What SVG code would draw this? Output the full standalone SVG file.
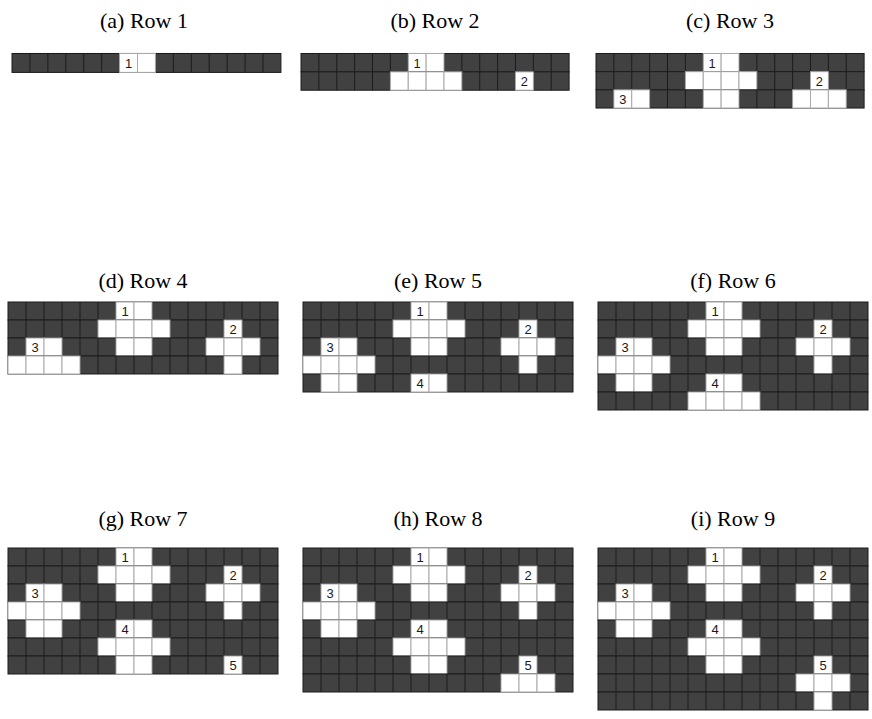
<svg xmlns="http://www.w3.org/2000/svg" xmlns:xlink="http://www.w3.org/1999/xlink" width="872" height="719" viewBox="0 0 872 719">
<style>
.bg{fill:#fff}
.d{fill:#414141;stroke:#1c1c1c;stroke-width:1}
.gl{stroke:#1c1c1c;stroke-width:1;fill:none}
.w{fill:#fff;stroke:#a9a9a9;stroke-width:1}
.lb{font-family:"Liberation Sans",Arial,sans-serif;font-size:13px;fill:#1a1a1a;text-anchor:middle}
.tt{font-family:"Liberation Serif","Times New Roman",serif;font-size:22px;fill:#000;text-anchor:middle}
</style>
<defs>
<path id="vl" class="gl" d="M18 0v18M36 0v18M54 0v18M72 0v18M90 0v18M108 0v18M126 0v18M144 0v18M162 0v18M180 0v18M198 0v18M216 0v18M234 0v18M252 0v18"/>
<g id="r0"><rect class="d" width="270" height="18"/><use xlink:href="#vl"/>
<rect class="w" x="108" width="18" height="18"/><rect class="w" x="126" width="18" height="18"/>
<text class="lb" x="117" y="14">1</text></g>
<g id="r1"><rect class="d" width="270" height="18"/><use xlink:href="#vl"/>
<rect class="w" x="90" width="18" height="18"/><rect class="w" x="108" width="18" height="18"/><rect class="w" x="126" width="18" height="18"/><rect class="w" x="144" width="18" height="18"/><rect class="w" x="216" width="18" height="18"/>
<text class="lb" x="225" y="14">2</text></g>
<g id="r2"><rect class="d" width="270" height="18"/><use xlink:href="#vl"/>
<rect class="w" x="18" width="18" height="18"/><rect class="w" x="36" width="18" height="18"/><rect class="w" x="108" width="18" height="18"/><rect class="w" x="126" width="18" height="18"/><rect class="w" x="198" width="18" height="18"/><rect class="w" x="216" width="18" height="18"/><rect class="w" x="234" width="18" height="18"/>
<text class="lb" x="27" y="14">3</text></g>
<g id="r3"><rect class="d" width="270" height="18"/><use xlink:href="#vl"/>
<rect class="w" x="0" width="18" height="18"/><rect class="w" x="18" width="18" height="18"/><rect class="w" x="36" width="18" height="18"/><rect class="w" x="54" width="18" height="18"/><rect class="w" x="216" width="18" height="18"/></g>
<g id="r4"><rect class="d" width="270" height="18"/><use xlink:href="#vl"/>
<rect class="w" x="18" width="18" height="18"/><rect class="w" x="36" width="18" height="18"/><rect class="w" x="108" width="18" height="18"/><rect class="w" x="126" width="18" height="18"/>
<text class="lb" x="117" y="14">4</text></g>
<g id="r5"><rect class="d" width="270" height="18"/><use xlink:href="#vl"/>
<rect class="w" x="90" width="18" height="18"/><rect class="w" x="108" width="18" height="18"/><rect class="w" x="126" width="18" height="18"/><rect class="w" x="144" width="18" height="18"/></g>
<g id="r6"><rect class="d" width="270" height="18"/><use xlink:href="#vl"/>
<rect class="w" x="108" width="18" height="18"/><rect class="w" x="126" width="18" height="18"/><rect class="w" x="216" width="18" height="18"/>
<text class="lb" x="225" y="14">5</text></g>
<g id="r7"><rect class="d" width="270" height="18"/><use xlink:href="#vl"/>
<rect class="w" x="198" width="18" height="18"/><rect class="w" x="216" width="18" height="18"/><rect class="w" x="234" width="18" height="18"/></g>
<g id="r8"><rect class="d" width="270" height="18"/><use xlink:href="#vl"/>
<rect class="w" x="216" width="18" height="18"/></g>
</defs>
<rect class="bg" width="872" height="719"/>

<g id="panel-a">
<text class="tt" x="144" y="28">(a) Row 1</text>
<g transform="translate(12,53.5) scale(0.996,1.05)"><use xlink:href="#r0"/></g>
</g>

<g id="panel-b">
<text class="tt" x="435" y="28">(b) Row 2</text>
<g transform="translate(301,53.5) scale(0.993,1.02)"><use xlink:href="#r0"/><use xlink:href="#r1" y="18"/></g>
</g>

<g id="panel-c">
<text class="tt" x="730" y="28">(c) Row 3</text>
<g transform="translate(596,53.5) scale(0.993,1.01)"><use xlink:href="#r0"/><use xlink:href="#r1" y="18"/><use xlink:href="#r2" y="36"/></g>
</g>

<g id="panel-d">
<text class="tt" x="143" y="288">(d) Row 4</text>
<g transform="translate(8,302)"><use xlink:href="#r0"/><use xlink:href="#r1" y="18"/><use xlink:href="#r2" y="36"/><use xlink:href="#r3" y="54"/></g>
</g>

<g id="panel-e">
<text class="tt" x="438" y="288">(e) Row 5</text>
<g transform="translate(303,302)"><use xlink:href="#r0"/><use xlink:href="#r1" y="18"/><use xlink:href="#r2" y="36"/><use xlink:href="#r3" y="54"/><use xlink:href="#r4" y="72"/></g>
</g>

<g id="panel-f">
<text class="tt" x="733" y="288">(f) Row 6</text>
<g transform="translate(598,302)"><use xlink:href="#r0"/><use xlink:href="#r1" y="18"/><use xlink:href="#r2" y="36"/><use xlink:href="#r3" y="54"/><use xlink:href="#r4" y="72"/><use xlink:href="#r5" y="90"/></g>
</g>

<g id="panel-g">
<text class="tt" x="143" y="526">(g) Row 7</text>
<g transform="translate(8,548)"><use xlink:href="#r0"/><use xlink:href="#r1" y="18"/><use xlink:href="#r2" y="36"/><use xlink:href="#r3" y="54"/><use xlink:href="#r4" y="72"/><use xlink:href="#r5" y="90"/><use xlink:href="#r6" y="108"/></g>
</g>

<g id="panel-h">
<text class="tt" x="438" y="526">(h) Row 8</text>
<g transform="translate(303,548)"><use xlink:href="#r0"/><use xlink:href="#r1" y="18"/><use xlink:href="#r2" y="36"/><use xlink:href="#r3" y="54"/><use xlink:href="#r4" y="72"/><use xlink:href="#r5" y="90"/><use xlink:href="#r6" y="108"/><use xlink:href="#r7" y="126"/></g>
</g>

<g id="panel-i">
<text class="tt" x="733" y="526">(i) Row 9</text>
<g transform="translate(598,548)"><use xlink:href="#r0"/><use xlink:href="#r1" y="18"/><use xlink:href="#r2" y="36"/><use xlink:href="#r3" y="54"/><use xlink:href="#r4" y="72"/><use xlink:href="#r5" y="90"/><use xlink:href="#r6" y="108"/><use xlink:href="#r7" y="126"/><use xlink:href="#r8" y="144"/></g>
</g>
</svg>
